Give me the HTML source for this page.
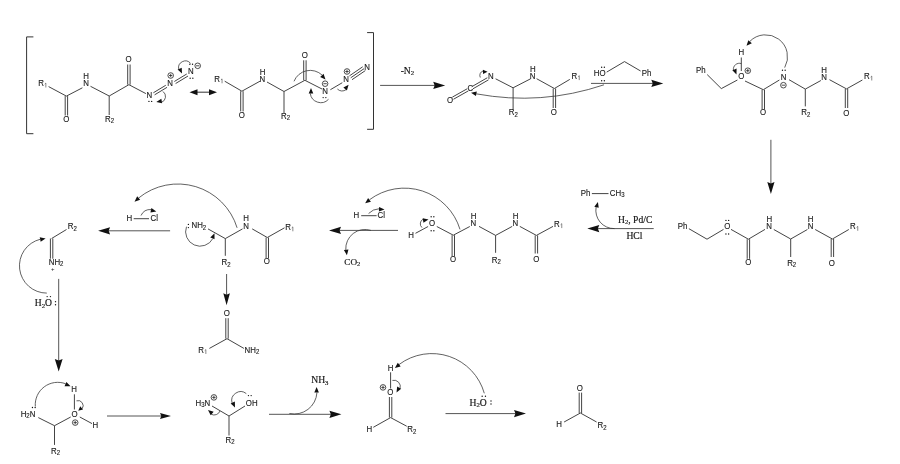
<!DOCTYPE html>
<html><head><meta charset="utf-8"><style>
html,body{margin:0;padding:0;background:#fff;width:900px;height:464px;overflow:hidden}
svg{display:block;will-change:transform}
</style></head><body>
<svg width="900" height="464" viewBox="0 0 900 464">
<rect width="900" height="464" fill="#fff"/>
<path d="M33.4,36.9 H26.6 V133.7 H33.4" fill="none" stroke="#333" stroke-width="1"/>
<text transform="translate(38.15,86) scale(0.95,1)" font-family='"Liberation Sans", sans-serif' font-size="8.3" fill="#1a1a1a" stroke="#1a1a1a" stroke-width="0.12">R<tspan font-size="6.31" dx="3.51">​</tspan></text>
<path d="M44.75,84.08 L45.85,83.08 L45.85,87.49" fill="none" stroke="#484848" stroke-width="0.65"/>
<line x1="48.6" y1="86.6" x2="66.4" y2="96.1" stroke="#3a3a3a" stroke-width="0.95"/>
<line x1="65.2" y1="96.1" x2="65.2" y2="115.5" stroke="#3a3a3a" stroke-width="0.95"/>
<line x1="67.6" y1="96.1" x2="67.6" y2="115.5" stroke="#3a3a3a" stroke-width="0.95"/>
<text transform="translate(63.33,122) scale(0.95,1)" font-family='"Liberation Sans", sans-serif' font-size="8.3" fill="#1a1a1a" stroke="#1a1a1a" stroke-width="0.12">O</text>
<line x1="66.4" y1="96.1" x2="82.4" y2="87.8" stroke="#3a3a3a" stroke-width="0.95"/>
<text transform="translate(83.15,86) scale(0.95,1)" font-family='"Liberation Sans", sans-serif' font-size="8.3" fill="#1a1a1a" stroke="#1a1a1a" stroke-width="0.12">N</text>
<text transform="translate(83.35,79.3) scale(0.95,1)" font-family='"Liberation Sans", sans-serif' font-size="8.3" fill="#1a1a1a" stroke="#1a1a1a" stroke-width="0.12">H</text>
<line x1="90.5" y1="86.3" x2="109.2" y2="96" stroke="#3a3a3a" stroke-width="0.95"/>
<line x1="109.2" y1="96" x2="109.2" y2="115" stroke="#3a3a3a" stroke-width="0.95"/>
<text transform="translate(105.05,121.5) scale(0.95,1)" font-family='"Liberation Sans", sans-serif' font-size="8.3" fill="#1a1a1a" stroke="#1a1a1a" stroke-width="0.12">R<tspan font-size="6.31" dy="1.49">2</tspan><tspan dy="-1.49">​</tspan></text>
<line x1="109.2" y1="96" x2="128.9" y2="84.7" stroke="#3a3a3a" stroke-width="0.95"/>
<line x1="130.1" y1="84.7" x2="130.1" y2="64.5" stroke="#3a3a3a" stroke-width="0.95"/>
<line x1="127.7" y1="84.7" x2="127.7" y2="64.5" stroke="#3a3a3a" stroke-width="0.95"/>
<text transform="translate(125.53,62) scale(0.95,1)" font-family='"Liberation Sans", sans-serif' font-size="8.3" fill="#1a1a1a" stroke="#1a1a1a" stroke-width="0.12">O</text>
<line x1="128.9" y1="84.7" x2="145.9" y2="93.6" stroke="#3a3a3a" stroke-width="0.95"/>
<text transform="translate(146.55,98) scale(0.95,1)" font-family='"Liberation Sans", sans-serif' font-size="8.3" fill="#1a1a1a" stroke="#1a1a1a" stroke-width="0.12">N</text>
<circle cx="148.95" cy="101.4" r="0.68" fill="#111"/><circle cx="151.65" cy="101.4" r="0.68" fill="#111"/>
<line x1="154.62" y1="94.83" x2="167.02" y2="87.33" stroke="#3a3a3a" stroke-width="0.95"/>
<line x1="153.38" y1="92.77" x2="165.78" y2="85.27" stroke="#3a3a3a" stroke-width="0.95"/>
<text transform="translate(167.35,85.6) scale(0.95,1)" font-family='"Liberation Sans", sans-serif' font-size="8.3" fill="#1a1a1a" stroke="#1a1a1a" stroke-width="0.12">N</text>
<circle cx="170.7" cy="75.5" r="2.8" fill="none" stroke="#222" stroke-width="0.8"/><line x1="169.02" y1="75.5" x2="172.38" y2="75.5" stroke="#222" stroke-width="0.8"/><line x1="170.7" y1="73.82" x2="170.7" y2="77.18" stroke="#222" stroke-width="0.8"/>
<line x1="175.62" y1="83.53" x2="188.02" y2="76.03" stroke="#3a3a3a" stroke-width="0.95"/>
<line x1="174.38" y1="81.47" x2="186.78" y2="73.97" stroke="#3a3a3a" stroke-width="0.95"/>
<text transform="translate(188.05,74.3) scale(0.95,1)" font-family='"Liberation Sans", sans-serif' font-size="8.3" fill="#1a1a1a" stroke="#1a1a1a" stroke-width="0.12">N</text>
<circle cx="197.7" cy="65.8" r="2.8" fill="none" stroke="#222" stroke-width="0.8"/><line x1="196.02" y1="65.8" x2="199.38" y2="65.8" stroke="#222" stroke-width="0.8"/>
<circle cx="189.85" cy="64.2" r="0.68" fill="#111"/><circle cx="192.55" cy="64.2" r="0.68" fill="#111"/>
<circle cx="190.15" cy="78.2" r="0.68" fill="#111"/><circle cx="192.85" cy="78.2" r="0.68" fill="#111"/>
<path d="M190.5,63.3 A6.78,6.78 0 0 0 178.78,69.33" fill="none" stroke="#3a3a3a" stroke-width="0.8"/>
<path d="M182,73.6 L177.57,69.61 L179.65,68.63 L181.73,67.64 Z" fill="#111"/>
<path d="M163,91.5 A6.24,6.24 0 0 1 161.62,102.3" fill="none" stroke="#3a3a3a" stroke-width="0.8"/>
<path d="M156.3,102 L161.35,98.83 L161.73,101.1 L162.1,103.37 Z" fill="#111"/>
<line x1="196" y1="92.2" x2="210" y2="92.2" stroke="#444" stroke-width="1.1"/>
<path d="M217,92.2 L209,95.2 L209,92.2 L209,89.2 Z" fill="#111"/>
<path d="M189.5,92.2 L197.5,89.2 L197.5,92.2 L197.5,95.2 Z" fill="#111"/>
<text transform="translate(214.35,81.8) scale(0.95,1)" font-family='"Liberation Sans", sans-serif' font-size="8.3" fill="#1a1a1a" stroke="#1a1a1a" stroke-width="0.12">R<tspan font-size="6.31" dx="3.51">​</tspan></text>
<path d="M220.95,79.88 L222.05,78.88 L222.05,83.29" fill="none" stroke="#484848" stroke-width="0.65"/>
<line x1="224.7" y1="81.2" x2="241.9" y2="91.2" stroke="#3a3a3a" stroke-width="0.95"/>
<line x1="240.7" y1="91.2" x2="240.7" y2="111.4" stroke="#3a3a3a" stroke-width="0.95"/>
<line x1="243.1" y1="91.2" x2="243.1" y2="111.4" stroke="#3a3a3a" stroke-width="0.95"/>
<text transform="translate(238.83,118) scale(0.95,1)" font-family='"Liberation Sans", sans-serif' font-size="8.3" fill="#1a1a1a" stroke="#1a1a1a" stroke-width="0.12">O</text>
<line x1="241.9" y1="91.2" x2="260" y2="81.2" stroke="#3a3a3a" stroke-width="0.95"/>
<text transform="translate(259.55,81.8) scale(0.95,1)" font-family='"Liberation Sans", sans-serif' font-size="8.3" fill="#1a1a1a" stroke="#1a1a1a" stroke-width="0.12">N</text>
<text transform="translate(259.85,75) scale(0.95,1)" font-family='"Liberation Sans", sans-serif' font-size="8.3" fill="#1a1a1a" stroke="#1a1a1a" stroke-width="0.12">H</text>
<line x1="267" y1="82" x2="284" y2="91.5" stroke="#3a3a3a" stroke-width="0.95"/>
<line x1="284" y1="91.5" x2="284" y2="113" stroke="#3a3a3a" stroke-width="0.95"/>
<text transform="translate(281.05,118.5) scale(0.95,1)" font-family='"Liberation Sans", sans-serif' font-size="8.3" fill="#1a1a1a" stroke="#1a1a1a" stroke-width="0.12">R<tspan font-size="6.31" dy="1.49">2</tspan><tspan dy="-1.49">​</tspan></text>
<line x1="284" y1="91.5" x2="304.9" y2="80.3" stroke="#3a3a3a" stroke-width="0.95"/>
<line x1="306.1" y1="80.3" x2="306.1" y2="60.3" stroke="#3a3a3a" stroke-width="0.95"/>
<line x1="303.7" y1="80.3" x2="303.7" y2="60.3" stroke="#3a3a3a" stroke-width="0.95"/>
<text transform="translate(301.83,58) scale(0.95,1)" font-family='"Liberation Sans", sans-serif' font-size="8.3" fill="#1a1a1a" stroke="#1a1a1a" stroke-width="0.12">O</text>
<line x1="304.9" y1="80.3" x2="322" y2="89" stroke="#3a3a3a" stroke-width="0.95"/>
<text transform="translate(322.25,94) scale(0.95,1)" font-family='"Liberation Sans", sans-serif' font-size="8.3" fill="#1a1a1a" stroke="#1a1a1a" stroke-width="0.12">N</text>
<circle cx="325.1" cy="83.7" r="2.8" fill="none" stroke="#222" stroke-width="0.8"/><line x1="323.42" y1="83.7" x2="326.78" y2="83.7" stroke="#222" stroke-width="0.8"/>
<circle cx="323.15" cy="97.6" r="0.68" fill="#111"/><circle cx="325.85" cy="97.6" r="0.68" fill="#111"/>
<line x1="330.4" y1="89.7" x2="342.3" y2="82.7" stroke="#3a3a3a" stroke-width="0.95"/>
<text transform="translate(343.25,81.8) scale(0.95,1)" font-family='"Liberation Sans", sans-serif' font-size="8.3" fill="#1a1a1a" stroke="#1a1a1a" stroke-width="0.12">N</text>
<circle cx="347" cy="71.5" r="2.8" fill="none" stroke="#222" stroke-width="0.8"/><line x1="345.32" y1="71.5" x2="348.68" y2="71.5" stroke="#222" stroke-width="0.8"/><line x1="347" y1="69.82" x2="347" y2="73.18" stroke="#222" stroke-width="0.8"/>
<line x1="350.7" y1="77.8" x2="364" y2="68.7" stroke="#3a3a3a" stroke-width="0.95"/>
<line x1="352" y1="79.7" x2="365.3" y2="70.6" stroke="#3a3a3a" stroke-width="0.95"/>
<line x1="349.4" y1="75.9" x2="362.7" y2="66.8" stroke="#3a3a3a" stroke-width="0.95"/>
<text transform="translate(364.25,70) scale(0.95,1)" font-family='"Liberation Sans", sans-serif' font-size="8.3" fill="#1a1a1a" stroke="#1a1a1a" stroke-width="0.12">N</text>
<path d="M367.1,32.6 H373.5 V129.3 H367.1" fill="none" stroke="#333" stroke-width="1"/>
<path d="M294,81.3 A17.43,17.43 0 0 1 322.17,75.15" fill="none" stroke="#3a3a3a" stroke-width="0.8"/>
<path d="M325.5,79.5 L320.11,76.95 L321.82,75.41 L323.53,73.87 Z" fill="#111"/>
<path d="M328.5,99.3 A10.59,10.59 0 0 1 310.27,93.39" fill="none" stroke="#3a3a3a" stroke-width="0.8"/>
<path d="M311,88 L313.28,93.51 L310.98,93.5 L308.68,93.49 Z" fill="#111"/>
<path d="M337.4,89 A6.51,6.51 0 0 0 346.18,89.56" fill="none" stroke="#3a3a3a" stroke-width="0.8"/>
<path d="M348.6,84.8 L346.92,90.52 L345.14,89.07 L343.35,87.62 Z" fill="#111"/>
<line x1="380.1" y1="85.4" x2="435.6" y2="85.4" stroke="#555" stroke-width="1"/>
<path d="M445.2,85.4 L433.2,89 L434.64,85.4 L433.2,81.8 Z" fill="#111"/>
<text transform="translate(400.64,74) scale(1.0,1)" font-family='"Liberation Serif", serif' font-size="9.6" fill="#1a1a1a" stroke="#1a1a1a" stroke-width="0.2">-N<tspan font-size="6.72" dy="1.25">2</tspan><tspan dy="-1.25">​</tspan></text>
<text transform="translate(446.93,102.5) scale(0.95,1)" font-family='"Liberation Sans", sans-serif' font-size="8.3" fill="#1a1a1a" stroke="#1a1a1a" stroke-width="0.12">O</text>
<line x1="453.49" y1="99.25" x2="468.39" y2="90.85" stroke="#3a3a3a" stroke-width="0.95"/>
<line x1="452.31" y1="97.15" x2="467.21" y2="88.75" stroke="#3a3a3a" stroke-width="0.95"/>
<text transform="translate(467.6,90.8) scale(0.95,1)" font-family='"Liberation Sans", sans-serif' font-size="8.3" fill="#1a1a1a" stroke="#1a1a1a" stroke-width="0.12">C</text>
<line x1="472.9" y1="88.84" x2="488.5" y2="79.84" stroke="#3a3a3a" stroke-width="0.95"/>
<line x1="471.7" y1="86.76" x2="487.3" y2="77.76" stroke="#3a3a3a" stroke-width="0.95"/>
<text transform="translate(488.05,78.6) scale(0.95,1)" font-family='"Liberation Sans", sans-serif' font-size="8.3" fill="#1a1a1a" stroke="#1a1a1a" stroke-width="0.12">N</text>
<line x1="495.6" y1="78.8" x2="513.1" y2="87.8" stroke="#3a3a3a" stroke-width="0.95"/>
<line x1="513.1" y1="87.8" x2="513.1" y2="109.5" stroke="#3a3a3a" stroke-width="0.95"/>
<text transform="translate(508.85,115) scale(0.95,1)" font-family='"Liberation Sans", sans-serif' font-size="8.3" fill="#1a1a1a" stroke="#1a1a1a" stroke-width="0.12">R<tspan font-size="6.31" dy="1.49">2</tspan><tspan dy="-1.49">​</tspan></text>
<line x1="513.1" y1="87.8" x2="530.6" y2="78.8" stroke="#3a3a3a" stroke-width="0.95"/>
<text transform="translate(529.85,78.6) scale(0.95,1)" font-family='"Liberation Sans", sans-serif' font-size="8.3" fill="#1a1a1a" stroke="#1a1a1a" stroke-width="0.12">N</text>
<text transform="translate(530.05,72) scale(0.95,1)" font-family='"Liberation Sans", sans-serif' font-size="8.3" fill="#1a1a1a" stroke="#1a1a1a" stroke-width="0.12">H</text>
<line x1="536.6" y1="78.7" x2="554.4" y2="88.5" stroke="#3a3a3a" stroke-width="0.95"/>
<line x1="553.2" y1="88.5" x2="553.2" y2="108" stroke="#3a3a3a" stroke-width="0.95"/>
<line x1="555.6" y1="88.5" x2="555.6" y2="108" stroke="#3a3a3a" stroke-width="0.95"/>
<text transform="translate(550.73,114.8) scale(0.95,1)" font-family='"Liberation Sans", sans-serif' font-size="8.3" fill="#1a1a1a" stroke="#1a1a1a" stroke-width="0.12">O</text>
<line x1="554.4" y1="88.5" x2="569.8" y2="79.4" stroke="#3a3a3a" stroke-width="0.95"/>
<text transform="translate(571.55,78.6) scale(0.95,1)" font-family='"Liberation Sans", sans-serif' font-size="8.3" fill="#1a1a1a" stroke="#1a1a1a" stroke-width="0.12">R<tspan font-size="6.31" dx="3.51">​</tspan></text>
<path d="M578.15,76.68 L579.25,75.68 L579.25,80.09" fill="none" stroke="#484848" stroke-width="0.65"/>
<text transform="translate(593.85,75.8) scale(0.95,1)" font-family='"Liberation Sans", sans-serif' font-size="8.3" fill="#1a1a1a" stroke="#1a1a1a" stroke-width="0.12">HO</text>
<circle cx="601.65" cy="67.2" r="0.68" fill="#111"/><circle cx="604.35" cy="67.2" r="0.68" fill="#111"/>
<circle cx="601.65" cy="80.7" r="0.68" fill="#111"/><circle cx="604.35" cy="80.7" r="0.68" fill="#111"/>
<line x1="606.7" y1="72.1" x2="624.5" y2="61.6" stroke="#3a3a3a" stroke-width="0.95"/>
<line x1="624.5" y1="61.6" x2="640.6" y2="71" stroke="#3a3a3a" stroke-width="0.95"/>
<text transform="translate(641.85,75.8) scale(0.95,1)" font-family='"Liberation Sans", sans-serif' font-size="8.3" fill="#1a1a1a" stroke="#1a1a1a" stroke-width="0.12">Ph</text>
<line x1="591" y1="83.4" x2="653.7" y2="83.4" stroke="#555" stroke-width="1"/>
<path d="M663.3,83.4 L651.3,87 L652.74,83.4 L651.3,79.8 Z" fill="#111"/>
<path d="M480.3,77.5 A4.69,4.69 0 0 1 483.27,70.88" fill="none" stroke="#3a3a3a" stroke-width="0.8"/>
<path d="M487.5,71.8 L483.06,74.01 L483,71.92 L482.95,69.82 Z" fill="#111"/>
<path d="M604,84.8 A255.13,255.13 0 0 1 476.4,93.86" fill="none" stroke="#3a3a3a" stroke-width="0.8"/>
<path d="M471,92.8 L476.83,91.57 L476.4,93.83 L475.97,96.09 Z" fill="#111"/>
<text transform="translate(696.05,73.4) scale(0.95,1)" font-family='"Liberation Sans", sans-serif' font-size="8.3" fill="#1a1a1a" stroke="#1a1a1a" stroke-width="0.12">Ph</text>
<line x1="707.2" y1="74.6" x2="721.3" y2="88.6" stroke="#3a3a3a" stroke-width="0.95"/>
<line x1="721.3" y1="88.6" x2="737.4" y2="80" stroke="#3a3a3a" stroke-width="0.95"/>
<text transform="translate(738.33,78.9) scale(0.95,1)" font-family='"Liberation Sans", sans-serif' font-size="8.3" fill="#1a1a1a" stroke="#1a1a1a" stroke-width="0.12">O</text>
<circle cx="747.8" cy="70.7" r="2.8" fill="none" stroke="#222" stroke-width="0.8"/><line x1="746.12" y1="70.7" x2="749.48" y2="70.7" stroke="#222" stroke-width="0.8"/><line x1="747.8" y1="69.02" x2="747.8" y2="72.38" stroke="#222" stroke-width="0.8"/>
<line x1="741.3" y1="71" x2="741.3" y2="57.5" stroke="#3a3a3a" stroke-width="0.95"/>
<text transform="translate(738.55,55.1) scale(0.95,1)" font-family='"Liberation Sans", sans-serif' font-size="8.3" fill="#1a1a1a" stroke="#1a1a1a" stroke-width="0.12">H</text>
<line x1="745" y1="81" x2="763.3" y2="89.7" stroke="#3a3a3a" stroke-width="0.95"/>
<line x1="762.1" y1="89.7" x2="762.1" y2="109" stroke="#3a3a3a" stroke-width="0.95"/>
<line x1="764.5" y1="89.7" x2="764.5" y2="109" stroke="#3a3a3a" stroke-width="0.95"/>
<text transform="translate(759.93,115.4) scale(0.95,1)" font-family='"Liberation Sans", sans-serif' font-size="8.3" fill="#1a1a1a" stroke="#1a1a1a" stroke-width="0.12">O</text>
<line x1="763.3" y1="89.7" x2="779.4" y2="80" stroke="#3a3a3a" stroke-width="0.95"/>
<text transform="translate(780.65,79.5) scale(0.95,1)" font-family='"Liberation Sans", sans-serif' font-size="8.3" fill="#1a1a1a" stroke="#1a1a1a" stroke-width="0.12">N</text>
<circle cx="782.45" cy="70.2" r="0.68" fill="#111"/><circle cx="785.15" cy="70.2" r="0.68" fill="#111"/>
<circle cx="783.4" cy="85.2" r="2.8" fill="none" stroke="#222" stroke-width="0.8"/><line x1="781.72" y1="85.2" x2="785.08" y2="85.2" stroke="#222" stroke-width="0.8"/>
<line x1="789" y1="79.7" x2="805.3" y2="89.1" stroke="#3a3a3a" stroke-width="0.95"/>
<line x1="805.3" y1="89.1" x2="805.3" y2="106.4" stroke="#3a3a3a" stroke-width="0.95"/>
<text transform="translate(801.35,115.2) scale(0.95,1)" font-family='"Liberation Sans", sans-serif' font-size="8.3" fill="#1a1a1a" stroke="#1a1a1a" stroke-width="0.12">R<tspan font-size="6.31" dy="1.49">2</tspan><tspan dy="-1.49">​</tspan></text>
<line x1="805.3" y1="89.1" x2="820.9" y2="80.5" stroke="#3a3a3a" stroke-width="0.95"/>
<text transform="translate(821.25,79.6) scale(0.95,1)" font-family='"Liberation Sans", sans-serif' font-size="8.3" fill="#1a1a1a" stroke="#1a1a1a" stroke-width="0.12">N</text>
<text transform="translate(821.35,73.2) scale(0.95,1)" font-family='"Liberation Sans", sans-serif' font-size="8.3" fill="#1a1a1a" stroke="#1a1a1a" stroke-width="0.12">H</text>
<line x1="829.5" y1="79.7" x2="846.5" y2="88.9" stroke="#3a3a3a" stroke-width="0.95"/>
<line x1="845.3" y1="88.9" x2="845.3" y2="108" stroke="#3a3a3a" stroke-width="0.95"/>
<line x1="847.7" y1="88.9" x2="847.7" y2="108" stroke="#3a3a3a" stroke-width="0.95"/>
<text transform="translate(843.13,115.7) scale(0.95,1)" font-family='"Liberation Sans", sans-serif' font-size="8.3" fill="#1a1a1a" stroke="#1a1a1a" stroke-width="0.12">O</text>
<line x1="846.5" y1="88.9" x2="862.4" y2="80" stroke="#3a3a3a" stroke-width="0.95"/>
<text transform="translate(864.05,79) scale(0.95,1)" font-family='"Liberation Sans", sans-serif' font-size="8.3" fill="#1a1a1a" stroke="#1a1a1a" stroke-width="0.12">R<tspan font-size="6.31" dx="3.51">​</tspan></text>
<path d="M870.65,77.08 L871.75,76.08 L871.75,80.49" fill="none" stroke="#484848" stroke-width="0.65"/>
<path d="M741.3,63.6 A5.97,5.97 0 0 0 733.44,70.16" fill="none" stroke="#3a3a3a" stroke-width="0.8"/>
<path d="M736.5,74.5 L732.31,70.26 L734.44,69.4 L736.57,68.54 Z" fill="#111"/>
<path d="M784.7,67.6 A21.99,21.99 0 0 0 749.81,41.43" fill="none" stroke="#3a3a3a" stroke-width="0.8"/>
<path d="M746.5,45.8 L748.35,40.13 L750.09,41.63 L751.83,43.13 Z" fill="#111"/>
<line x1="770.9" y1="139.8" x2="770.9" y2="184.5" stroke="#555" stroke-width="1"/>
<path d="M770.9,194.1 L767.3,182.1 L770.9,183.54 L774.5,182.1 Z" fill="#111"/>
<text transform="translate(677.85,229.2) scale(0.95,1)" font-family='"Liberation Sans", sans-serif' font-size="8.3" fill="#1a1a1a" stroke="#1a1a1a" stroke-width="0.12">Ph</text>
<line x1="688.9" y1="228.7" x2="707" y2="239.2" stroke="#3a3a3a" stroke-width="0.95"/>
<line x1="707" y1="239.2" x2="723.5" y2="229.4" stroke="#3a3a3a" stroke-width="0.95"/>
<text transform="translate(724.13,229.2) scale(0.95,1)" font-family='"Liberation Sans", sans-serif' font-size="8.3" fill="#1a1a1a" stroke="#1a1a1a" stroke-width="0.12">O</text>
<circle cx="725.95" cy="220.4" r="0.68" fill="#111"/><circle cx="728.65" cy="220.4" r="0.68" fill="#111"/>
<circle cx="725.95" cy="234" r="0.68" fill="#111"/><circle cx="728.65" cy="234" r="0.68" fill="#111"/>
<line x1="731" y1="229.4" x2="748.4" y2="239.2" stroke="#3a3a3a" stroke-width="0.95"/>
<line x1="747.2" y1="239.2" x2="747.2" y2="258.8" stroke="#3a3a3a" stroke-width="0.95"/>
<line x1="749.6" y1="239.2" x2="749.6" y2="258.8" stroke="#3a3a3a" stroke-width="0.95"/>
<text transform="translate(745.23,265.4) scale(0.95,1)" font-family='"Liberation Sans", sans-serif' font-size="8.3" fill="#1a1a1a" stroke="#1a1a1a" stroke-width="0.12">O</text>
<line x1="748.4" y1="239.2" x2="765" y2="229.4" stroke="#3a3a3a" stroke-width="0.95"/>
<text transform="translate(766.35,228.5) scale(0.95,1)" font-family='"Liberation Sans", sans-serif' font-size="8.3" fill="#1a1a1a" stroke="#1a1a1a" stroke-width="0.12">N</text>
<text transform="translate(766.45,221.6) scale(0.95,1)" font-family='"Liberation Sans", sans-serif' font-size="8.3" fill="#1a1a1a" stroke="#1a1a1a" stroke-width="0.12">H</text>
<line x1="773.8" y1="229.5" x2="790.7" y2="239" stroke="#3a3a3a" stroke-width="0.95"/>
<line x1="790.7" y1="239" x2="790.7" y2="257" stroke="#3a3a3a" stroke-width="0.95"/>
<text transform="translate(787.15,265.5) scale(0.95,1)" font-family='"Liberation Sans", sans-serif' font-size="8.3" fill="#1a1a1a" stroke="#1a1a1a" stroke-width="0.12">R<tspan font-size="6.31" dy="1.49">2</tspan><tspan dy="-1.49">​</tspan></text>
<line x1="790.7" y1="239" x2="807.4" y2="229.5" stroke="#3a3a3a" stroke-width="0.95"/>
<text transform="translate(807.75,228.5) scale(0.95,1)" font-family='"Liberation Sans", sans-serif' font-size="8.3" fill="#1a1a1a" stroke="#1a1a1a" stroke-width="0.12">N</text>
<text transform="translate(807.85,221.6) scale(0.95,1)" font-family='"Liberation Sans", sans-serif' font-size="8.3" fill="#1a1a1a" stroke="#1a1a1a" stroke-width="0.12">H</text>
<line x1="815.2" y1="229.5" x2="832.4" y2="239" stroke="#3a3a3a" stroke-width="0.95"/>
<line x1="831.2" y1="239" x2="831.2" y2="257" stroke="#3a3a3a" stroke-width="0.95"/>
<line x1="833.6" y1="239" x2="833.6" y2="257" stroke="#3a3a3a" stroke-width="0.95"/>
<text transform="translate(828.83,265.5) scale(0.95,1)" font-family='"Liberation Sans", sans-serif' font-size="8.3" fill="#1a1a1a" stroke="#1a1a1a" stroke-width="0.12">O</text>
<line x1="832.4" y1="239" x2="848.8" y2="229.5" stroke="#3a3a3a" stroke-width="0.95"/>
<text transform="translate(850.05,229.3) scale(0.95,1)" font-family='"Liberation Sans", sans-serif' font-size="8.3" fill="#1a1a1a" stroke="#1a1a1a" stroke-width="0.12">R<tspan font-size="6.31" dx="3.51">​</tspan></text>
<path d="M856.65,227.38 L857.75,226.38 L857.75,230.79" fill="none" stroke="#484848" stroke-width="0.65"/>
<line x1="653.7" y1="228.6" x2="596.9" y2="228.6" stroke="#555" stroke-width="1"/>
<path d="M587.3,228.6 L599.3,225 L597.86,228.6 L599.3,232.2 Z" fill="#111"/>
<text transform="translate(580.85,195.7) scale(0.95,1)" font-family='"Liberation Sans", sans-serif' font-size="8.3" fill="#1a1a1a" stroke="#1a1a1a" stroke-width="0.12">Ph</text>
<line x1="591.9" y1="193.6" x2="608.5" y2="193.6" stroke="#3a3a3a" stroke-width="0.95"/>
<text transform="translate(609.8,195.7) scale(0.95,1)" font-family='"Liberation Sans", sans-serif' font-size="8.3" fill="#1a1a1a" stroke="#1a1a1a" stroke-width="0.12">CH<tspan font-size="6.31" dy="1.49">3</tspan><tspan dy="-1.49">​</tspan></text>
<text transform="translate(618.02,222.5) scale(1.0,1)" font-family='"Liberation Serif", serif' font-size="9.6" fill="#1a1a1a" stroke="#1a1a1a" stroke-width="0.2">H<tspan font-size="6.72" dy="1.25">2</tspan><tspan dy="-1.25">​</tspan>, Pd/C</text>
<text transform="translate(626.42,238.6) scale(1.0,1)" font-family='"Liberation Serif", serif' font-size="9.6" fill="#1a1a1a" stroke="#1a1a1a" stroke-width="0.2">HCl</text>
<path d="M614.5,228.6 A18.26,18.26 0 0 1 596.12,207.08" fill="none" stroke="#3a3a3a" stroke-width="0.8"/>
<path d="M597.9,201.9 L598.74,207.8 L596.51,207.22 L594.29,206.64 Z" fill="#111"/>
<text transform="translate(408.25,238) scale(0.95,1)" font-family='"Liberation Sans", sans-serif' font-size="8.3" fill="#1a1a1a" stroke="#1a1a1a" stroke-width="0.12">H</text>
<line x1="415.5" y1="233.3" x2="428.1" y2="226.5" stroke="#3a3a3a" stroke-width="0.95"/>
<text transform="translate(428.93,226.4) scale(0.95,1)" font-family='"Liberation Sans", sans-serif' font-size="8.3" fill="#1a1a1a" stroke="#1a1a1a" stroke-width="0.12">O</text>
<circle cx="431.15" cy="216.8" r="0.68" fill="#111"/><circle cx="433.85" cy="216.8" r="0.68" fill="#111"/>
<circle cx="431.15" cy="230.8" r="0.68" fill="#111"/><circle cx="433.85" cy="230.8" r="0.68" fill="#111"/>
<line x1="436.8" y1="226.5" x2="453.3" y2="235.2" stroke="#3a3a3a" stroke-width="0.95"/>
<line x1="452.1" y1="235.2" x2="452.1" y2="256" stroke="#3a3a3a" stroke-width="0.95"/>
<line x1="454.5" y1="235.2" x2="454.5" y2="256" stroke="#3a3a3a" stroke-width="0.95"/>
<text transform="translate(449.93,262.3) scale(0.95,1)" font-family='"Liberation Sans", sans-serif' font-size="8.3" fill="#1a1a1a" stroke="#1a1a1a" stroke-width="0.12">O</text>
<line x1="453.3" y1="235.2" x2="469.8" y2="226.5" stroke="#3a3a3a" stroke-width="0.95"/>
<text transform="translate(470.55,226) scale(0.95,1)" font-family='"Liberation Sans", sans-serif' font-size="8.3" fill="#1a1a1a" stroke="#1a1a1a" stroke-width="0.12">N</text>
<text transform="translate(470.65,219) scale(0.95,1)" font-family='"Liberation Sans", sans-serif' font-size="8.3" fill="#1a1a1a" stroke="#1a1a1a" stroke-width="0.12">H</text>
<line x1="479" y1="226.4" x2="495.6" y2="235.4" stroke="#3a3a3a" stroke-width="0.95"/>
<line x1="495.6" y1="235.4" x2="495.6" y2="252.8" stroke="#3a3a3a" stroke-width="0.95"/>
<text transform="translate(491.85,262.8) scale(0.95,1)" font-family='"Liberation Sans", sans-serif' font-size="8.3" fill="#1a1a1a" stroke="#1a1a1a" stroke-width="0.12">R<tspan font-size="6.31" dy="1.49">2</tspan><tspan dy="-1.49">​</tspan></text>
<line x1="495.6" y1="235.4" x2="512.2" y2="226.4" stroke="#3a3a3a" stroke-width="0.95"/>
<text transform="translate(512.55,226) scale(0.95,1)" font-family='"Liberation Sans", sans-serif' font-size="8.3" fill="#1a1a1a" stroke="#1a1a1a" stroke-width="0.12">N</text>
<text transform="translate(512.65,219) scale(0.95,1)" font-family='"Liberation Sans", sans-serif' font-size="8.3" fill="#1a1a1a" stroke="#1a1a1a" stroke-width="0.12">H</text>
<line x1="519.8" y1="226.4" x2="536.4" y2="235.4" stroke="#3a3a3a" stroke-width="0.95"/>
<line x1="535.2" y1="235.4" x2="535.2" y2="253.5" stroke="#3a3a3a" stroke-width="0.95"/>
<line x1="537.6" y1="235.4" x2="537.6" y2="253.5" stroke="#3a3a3a" stroke-width="0.95"/>
<text transform="translate(533.13,261.8) scale(0.95,1)" font-family='"Liberation Sans", sans-serif' font-size="8.3" fill="#1a1a1a" stroke="#1a1a1a" stroke-width="0.12">O</text>
<line x1="536.4" y1="235.4" x2="553" y2="226.4" stroke="#3a3a3a" stroke-width="0.95"/>
<text transform="translate(554.05,226.6) scale(0.95,1)" font-family='"Liberation Sans", sans-serif' font-size="8.3" fill="#1a1a1a" stroke="#1a1a1a" stroke-width="0.12">R<tspan font-size="6.31" dx="3.51">​</tspan></text>
<path d="M560.65,224.68 L561.75,223.68 L561.75,228.09" fill="none" stroke="#484848" stroke-width="0.65"/>
<path d="M460,229.4 A58.13,58.13 0 0 0 369.43,199.79" fill="none" stroke="#3a3a3a" stroke-width="0.8"/>
<path d="M365.2,203.3 L368.09,198.09 L369.52,199.89 L370.94,201.7 Z" fill="#111"/>
<path d="M422,227.6 A5.16,5.16 0 0 1 423.28,219.08" fill="none" stroke="#3a3a3a" stroke-width="0.8"/>
<path d="M428.5,219.6 L423.46,222.78 L423.08,220.51 L422.69,218.25 Z" fill="#111"/>
<line x1="398" y1="230.4" x2="338.6" y2="230.4" stroke="#555" stroke-width="1"/>
<path d="M329,230.4 L341,226.8 L339.56,230.4 L341,234 Z" fill="#111"/>
<text transform="translate(353.45,218) scale(0.95,1)" font-family='"Liberation Sans", sans-serif' font-size="8.3" fill="#1a1a1a" stroke="#1a1a1a" stroke-width="0.12">H</text>
<line x1="361.2" y1="215.7" x2="376.6" y2="215.7" stroke="#3a3a3a" stroke-width="0.95"/>
<text transform="translate(377.5,218) scale(0.95,1)" font-family='"Liberation Sans", sans-serif' font-size="8.3" fill="#1a1a1a" stroke="#1a1a1a" stroke-width="0.12">Cl</text>
<path d="M368.6,213.5 A15.47,15.47 0 0 1 379.08,208.77" fill="none" stroke="#3a3a3a" stroke-width="0.8"/>
<path d="M384.5,209.5 L378.9,211.55 L379.01,209.25 L379.11,206.95 Z" fill="#111"/>
<path d="M370.9,230.4 A19.21,19.21 0 0 0 345.79,249.83" fill="none" stroke="#3a3a3a" stroke-width="0.8"/>
<path d="M346.9,255.2 L343.89,250.05 L346.17,249.75 L348.45,249.44 Z" fill="#111"/>
<text transform="translate(344.32,264.8) scale(1.0,1)" font-family='"Liberation Serif", serif' font-size="9.2" fill="#1a1a1a" stroke="#1a1a1a" stroke-width="0.2">CO<tspan font-size="6.44" dy="1.2">2</tspan><tspan dy="-1.2">​</tspan></text>
<circle cx="188.4" cy="224.4" r="0.68" fill="#111"/><circle cx="188.4" cy="227.6" r="0.68" fill="#111"/>
<text transform="translate(191.45,228) scale(0.95,1)" font-family='"Liberation Sans", sans-serif' font-size="8.3" fill="#1a1a1a" stroke="#1a1a1a" stroke-width="0.12">NH<tspan font-size="6.31" dy="1.49">2</tspan><tspan dy="-1.49">​</tspan></text>
<line x1="208" y1="228.9" x2="225.3" y2="238.6" stroke="#3a3a3a" stroke-width="0.95"/>
<line x1="225.3" y1="238.6" x2="225.3" y2="255.8" stroke="#3a3a3a" stroke-width="0.95"/>
<text transform="translate(221.55,265.3) scale(0.95,1)" font-family='"Liberation Sans", sans-serif' font-size="8.3" fill="#1a1a1a" stroke="#1a1a1a" stroke-width="0.12">R<tspan font-size="6.31" dy="1.49">2</tspan><tspan dy="-1.49">​</tspan></text>
<line x1="225.3" y1="238.6" x2="242.5" y2="228.9" stroke="#3a3a3a" stroke-width="0.95"/>
<text transform="translate(243.15,228.8) scale(0.95,1)" font-family='"Liberation Sans", sans-serif' font-size="8.3" fill="#1a1a1a" stroke="#1a1a1a" stroke-width="0.12">N</text>
<text transform="translate(243.25,221.3) scale(0.95,1)" font-family='"Liberation Sans", sans-serif' font-size="8.3" fill="#1a1a1a" stroke="#1a1a1a" stroke-width="0.12">H</text>
<line x1="252.2" y1="228.9" x2="267.3" y2="237.5" stroke="#3a3a3a" stroke-width="0.95"/>
<line x1="266.1" y1="237.5" x2="266.1" y2="258" stroke="#3a3a3a" stroke-width="0.95"/>
<line x1="268.5" y1="237.5" x2="268.5" y2="258" stroke="#3a3a3a" stroke-width="0.95"/>
<text transform="translate(263.83,264.4) scale(0.95,1)" font-family='"Liberation Sans", sans-serif' font-size="8.3" fill="#1a1a1a" stroke="#1a1a1a" stroke-width="0.12">O</text>
<line x1="267.3" y1="237.5" x2="284.5" y2="227.8" stroke="#3a3a3a" stroke-width="0.95"/>
<text transform="translate(285.15,229.8) scale(0.95,1)" font-family='"Liberation Sans", sans-serif' font-size="8.3" fill="#1a1a1a" stroke="#1a1a1a" stroke-width="0.12">R<tspan font-size="6.31" dx="3.51">​</tspan></text>
<path d="M291.75,227.88 L292.85,226.88 L292.85,231.29" fill="none" stroke="#484848" stroke-width="0.65"/>
<path d="M237.1,227.8 A61.96,61.96 0 0 0 138.59,198.03" fill="none" stroke="#3a3a3a" stroke-width="0.8"/>
<path d="M134.5,201.7 L137.18,196.37 L138.68,198.12 L140.17,199.87 Z" fill="#111"/>
<path d="M186.5,226.7 A14.48,14.48 0 0 0 212.91,238.43" fill="none" stroke="#3a3a3a" stroke-width="0.8"/>
<path d="M214.5,233.2 L214.53,239.16 L212.41,238.29 L210.28,237.41 Z" fill="#111"/>
<line x1="170.1" y1="230.8" x2="107.7" y2="230.8" stroke="#555" stroke-width="1"/>
<path d="M98.1,230.8 L110.1,227.2 L108.66,230.8 L110.1,234.4 Z" fill="#111"/>
<text transform="translate(126.45,221) scale(0.95,1)" font-family='"Liberation Sans", sans-serif' font-size="8.3" fill="#1a1a1a" stroke="#1a1a1a" stroke-width="0.12">H</text>
<line x1="133.7" y1="218.7" x2="149" y2="218.7" stroke="#3a3a3a" stroke-width="0.95"/>
<text transform="translate(150.5,221) scale(0.95,1)" font-family='"Liberation Sans", sans-serif' font-size="8.3" fill="#1a1a1a" stroke="#1a1a1a" stroke-width="0.12">Cl</text>
<path d="M141,215.5 A10.34,10.34 0 0 1 151.18,209.56" fill="none" stroke="#3a3a3a" stroke-width="0.8"/>
<path d="M156.3,211.4 L150.44,212.49 L150.92,210.24 L151.41,208 Z" fill="#111"/>
<line x1="226.6" y1="274" x2="226.6" y2="295.7" stroke="#555" stroke-width="1"/>
<path d="M226.6,305.3 L223.3,293.3 L226.6,294.74 L229.9,293.3 Z" fill="#111"/>
<text transform="translate(223.83,316.4) scale(0.95,1)" font-family='"Liberation Sans", sans-serif' font-size="8.3" fill="#1a1a1a" stroke="#1a1a1a" stroke-width="0.12">O</text>
<line x1="225.8" y1="318.2" x2="225.8" y2="338.7" stroke="#3a3a3a" stroke-width="0.95"/>
<line x1="228.2" y1="318.2" x2="228.2" y2="338.7" stroke="#3a3a3a" stroke-width="0.95"/>
<line x1="227" y1="338.7" x2="209.4" y2="348.4" stroke="#3a3a3a" stroke-width="0.95"/>
<line x1="227" y1="338.7" x2="243.9" y2="348.4" stroke="#3a3a3a" stroke-width="0.95"/>
<text transform="translate(198.15,352.5) scale(0.95,1)" font-family='"Liberation Sans", sans-serif' font-size="8.3" fill="#1a1a1a" stroke="#1a1a1a" stroke-width="0.12">R<tspan font-size="6.31" dx="3.51">​</tspan></text>
<path d="M204.75,350.58 L205.85,349.58 L205.85,353.99" fill="none" stroke="#484848" stroke-width="0.65"/>
<text transform="translate(244.55,352.5) scale(0.95,1)" font-family='"Liberation Sans", sans-serif' font-size="8.3" fill="#1a1a1a" stroke="#1a1a1a" stroke-width="0.12">NH<tspan font-size="6.31" dy="1.49">2</tspan><tspan dy="-1.49">​</tspan></text>
<text transform="translate(67.75,229) scale(0.95,1)" font-family='"Liberation Sans", sans-serif' font-size="8.3" fill="#1a1a1a" stroke="#1a1a1a" stroke-width="0.12">R<tspan font-size="6.31" dy="1.49">2</tspan><tspan dy="-1.49">​</tspan></text>
<line x1="51.6" y1="238.5" x2="66.5" y2="229.5" stroke="#3a3a3a" stroke-width="0.95"/>
<line x1="50.4" y1="238.5" x2="50.4" y2="258.7" stroke="#3a3a3a" stroke-width="0.95"/>
<line x1="52.8" y1="238.5" x2="52.8" y2="258.7" stroke="#3a3a3a" stroke-width="0.95"/>
<text transform="translate(48.75,264.8) scale(0.95,1)" font-family='"Liberation Sans", sans-serif' font-size="8.3" fill="#1a1a1a" stroke="#1a1a1a" stroke-width="0.12">NH<tspan font-size="6.31" dy="1.49">2</tspan><tspan dy="-1.49">​</tspan></text>
<text x="52.8" y="271" text-anchor="middle" font-family='"Liberation Sans", sans-serif' font-size="6" fill="#1a1a1a">+</text>
<line x1="58.7" y1="278.9" x2="58.7" y2="361.4" stroke="#555" stroke-width="1"/>
<path d="M58.7,371.4 L54.8,358.9 L58.7,360.4 L62.6,358.9 Z" fill="#111"/>
<text transform="translate(34.72,306.3) scale(1.0,1)" font-family='"Liberation Serif", serif' font-size="9.6" fill="#1a1a1a" stroke="#1a1a1a" stroke-width="0.2">H<tspan font-size="6.72" dy="1.25">2</tspan><tspan dy="-1.25">​</tspan>O</text>
<circle cx="47.15" cy="296.6" r="0.68" fill="#111"/><circle cx="50.45" cy="296.6" r="0.68" fill="#111"/>
<circle cx="55.5" cy="301.65" r="0.68" fill="#111"/><circle cx="55.5" cy="304.75" r="0.68" fill="#111"/>
<path d="M46.8,293.1 A27.31,27.31 0 0 1 40.17,239.29" fill="none" stroke="#3a3a3a" stroke-width="0.8"/>
<path d="M45.6,238.5 L40.65,241.82 L40.2,239.56 L39.76,237.31 Z" fill="#111"/>
<text transform="translate(20.65,416.5) scale(0.95,1)" font-family='"Liberation Sans", sans-serif' font-size="8.3" fill="#1a1a1a" stroke="#1a1a1a" stroke-width="0.12">H<tspan font-size="6.31" dy="1.49">2</tspan><tspan dy="-1.49">​</tspan>N</text>
<circle cx="32.45" cy="407.5" r="0.68" fill="#111"/><circle cx="35.15" cy="407.5" r="0.68" fill="#111"/>
<line x1="38.3" y1="417.6" x2="54.5" y2="425.7" stroke="#3a3a3a" stroke-width="0.95"/>
<line x1="54.5" y1="425.7" x2="54.5" y2="444.9" stroke="#3a3a3a" stroke-width="0.95"/>
<text transform="translate(51.05,453.8) scale(0.95,1)" font-family='"Liberation Sans", sans-serif' font-size="8.3" fill="#1a1a1a" stroke="#1a1a1a" stroke-width="0.12">R<tspan font-size="6.31" dy="1.49">2</tspan><tspan dy="-1.49">​</tspan></text>
<line x1="54.5" y1="425.7" x2="70.7" y2="417" stroke="#3a3a3a" stroke-width="0.95"/>
<text transform="translate(71.53,416.5) scale(0.95,1)" font-family='"Liberation Sans", sans-serif' font-size="8.3" fill="#1a1a1a" stroke="#1a1a1a" stroke-width="0.12">O</text>
<circle cx="75.2" cy="422.6" r="2.8" fill="none" stroke="#222" stroke-width="0.8"/><line x1="73.52" y1="422.6" x2="76.88" y2="422.6" stroke="#222" stroke-width="0.8"/><line x1="75.2" y1="420.92" x2="75.2" y2="424.28" stroke="#222" stroke-width="0.8"/>
<line x1="74.4" y1="409.5" x2="74.4" y2="394.3" stroke="#3a3a3a" stroke-width="0.95"/>
<text transform="translate(71.25,392.2) scale(0.95,1)" font-family='"Liberation Sans", sans-serif' font-size="8.3" fill="#1a1a1a" stroke="#1a1a1a" stroke-width="0.12">H</text>
<line x1="79.8" y1="417" x2="92" y2="423.6" stroke="#3a3a3a" stroke-width="0.95"/>
<text transform="translate(92.55,427.6) scale(0.95,1)" font-family='"Liberation Sans", sans-serif' font-size="8.3" fill="#1a1a1a" stroke="#1a1a1a" stroke-width="0.12">H</text>
<path d="M35.3,406.5 A22.5,22.5 0 0 1 65.64,383.76" fill="none" stroke="#3a3a3a" stroke-width="0.8"/>
<path d="M70.5,386.3 L64.54,386.16 L65.48,384.06 L66.41,381.96 Z" fill="#111"/>
<path d="M76.5,400.8 A5.12,5.12 0 0 1 82.08,408.81" fill="none" stroke="#3a3a3a" stroke-width="0.8"/>
<path d="M78.2,410.8 L80.31,406.31 L81.66,407.92 L83,409.53 Z" fill="#111"/>
<line x1="107" y1="416" x2="162.2" y2="416" stroke="#555" stroke-width="1"/>
<path d="M171,416 L160,419 L161.32,416 L160,413 Z" fill="#111"/>
<text transform="translate(195.55,405.8) scale(0.95,1)" font-family='"Liberation Sans", sans-serif' font-size="8.3" fill="#1a1a1a" stroke="#1a1a1a" stroke-width="0.12">H<tspan font-size="6.31" dy="1.49">3</tspan><tspan dy="-1.49">​</tspan>N</text>
<circle cx="213.9" cy="397.4" r="2.8" fill="none" stroke="#222" stroke-width="0.8"/><line x1="212.22" y1="397.4" x2="215.58" y2="397.4" stroke="#222" stroke-width="0.8"/><line x1="213.9" y1="395.72" x2="213.9" y2="399.08" stroke="#222" stroke-width="0.8"/>
<line x1="212" y1="406" x2="229" y2="416" stroke="#3a3a3a" stroke-width="0.95"/>
<line x1="229" y1="416" x2="229" y2="435.5" stroke="#3a3a3a" stroke-width="0.95"/>
<text transform="translate(225.55,442.8) scale(0.95,1)" font-family='"Liberation Sans", sans-serif' font-size="8.3" fill="#1a1a1a" stroke="#1a1a1a" stroke-width="0.12">R<tspan font-size="6.31" dy="1.49">2</tspan><tspan dy="-1.49">​</tspan></text>
<line x1="229" y1="416" x2="245" y2="406" stroke="#3a3a3a" stroke-width="0.95"/>
<text transform="translate(245.83,405.8) scale(0.95,1)" font-family='"Liberation Sans", sans-serif' font-size="8.3" fill="#1a1a1a" stroke="#1a1a1a" stroke-width="0.12">OH</text>
<circle cx="248.45" cy="395.6" r="0.68" fill="#111"/><circle cx="251.15" cy="395.6" r="0.68" fill="#111"/>
<path d="M246.3,393.6 A8.96,8.96 0 0 0 232.06,402.95" fill="none" stroke="#3a3a3a" stroke-width="0.8"/>
<path d="M235,407.5 L230.66,403.42 L232.76,402.48 L234.86,401.54 Z" fill="#111"/>
<path d="M220,411 A6.28,6.28 0 0 1 211.19,414.26" fill="none" stroke="#3a3a3a" stroke-width="0.8"/>
<path d="M208,410 L213.67,411.84 L212.17,413.58 L210.68,415.33 Z" fill="#111"/>
<line x1="269" y1="414.3" x2="331.8" y2="414.3" stroke="#555" stroke-width="1"/>
<path d="M341.4,414.3 L329.4,417.9 L330.84,414.3 L329.4,410.7 Z" fill="#111"/>
<text transform="translate(311.22,383.3) scale(1.0,1)" font-family='"Liberation Serif", serif' font-size="9.6" fill="#1a1a1a" stroke="#1a1a1a" stroke-width="0.2">NH<tspan font-size="6.72" dy="1.25">3</tspan><tspan dy="-1.25">​</tspan></text>
<path d="M289.4,413.5 A22.76,22.76 0 0 0 316.94,392.58" fill="none" stroke="#3a3a3a" stroke-width="0.8"/>
<path d="M316.6,387.1 L318.91,392.59 L316.61,392.6 L314.31,392.61 Z" fill="#111"/>
<text transform="translate(387.65,371.2) scale(0.95,1)" font-family='"Liberation Sans", sans-serif' font-size="8.3" fill="#1a1a1a" stroke="#1a1a1a" stroke-width="0.12">H</text>
<line x1="390.6" y1="372.3" x2="390.6" y2="388.5" stroke="#3a3a3a" stroke-width="0.95"/>
<text transform="translate(387.13,394.9) scale(0.95,1)" font-family='"Liberation Sans", sans-serif' font-size="8.3" fill="#1a1a1a" stroke="#1a1a1a" stroke-width="0.12">O</text>
<circle cx="383" cy="387.4" r="2.8" fill="none" stroke="#222" stroke-width="0.8"/><line x1="381.32" y1="387.4" x2="384.68" y2="387.4" stroke="#222" stroke-width="0.8"/><line x1="383" y1="385.72" x2="383" y2="389.08" stroke="#222" stroke-width="0.8"/>
<line x1="389.4" y1="397" x2="389.4" y2="417.6" stroke="#3a3a3a" stroke-width="0.95"/>
<line x1="391.8" y1="397" x2="391.8" y2="417.6" stroke="#3a3a3a" stroke-width="0.95"/>
<line x1="390.6" y1="417.6" x2="373.3" y2="427.3" stroke="#3a3a3a" stroke-width="0.95"/>
<text transform="translate(366.45,431.5) scale(0.95,1)" font-family='"Liberation Sans", sans-serif' font-size="8.3" fill="#1a1a1a" stroke="#1a1a1a" stroke-width="0.12">H</text>
<line x1="390.6" y1="417.6" x2="406.7" y2="426.2" stroke="#3a3a3a" stroke-width="0.95"/>
<text transform="translate(407.35,432) scale(0.95,1)" font-family='"Liberation Sans", sans-serif' font-size="8.3" fill="#1a1a1a" stroke="#1a1a1a" stroke-width="0.12">R<tspan font-size="6.31" dy="1.49">2</tspan><tspan dy="-1.49">​</tspan></text>
<path d="M392.4,380.4 A6.41,6.41 0 0 1 400.04,388.51" fill="none" stroke="#3a3a3a" stroke-width="0.8"/>
<path d="M396.5,392.5 L397.18,386.58 L399.19,387.7 L401.2,388.83 Z" fill="#111"/>
<path d="M484.3,393.3 A54.5,54.5 0 0 0 399.12,364.48" fill="none" stroke="#3a3a3a" stroke-width="0.8"/>
<path d="M394.9,368 L397.79,362.78 L399.21,364.59 L400.64,366.39 Z" fill="#111"/>
<line x1="445.5" y1="413.6" x2="516.4" y2="413.6" stroke="#555" stroke-width="1"/>
<path d="M526,413.6 L514,417.2 L515.44,413.6 L514,410 Z" fill="#111"/>
<text transform="translate(469.52,405.8) scale(1.0,1)" font-family='"Liberation Serif", serif' font-size="9.6" fill="#1a1a1a" stroke="#1a1a1a" stroke-width="0.2">H<tspan font-size="6.72" dy="1.25">2</tspan><tspan dy="-1.25">​</tspan>O</text>
<circle cx="482.15" cy="396.2" r="0.68" fill="#111"/><circle cx="485.45" cy="396.2" r="0.68" fill="#111"/>
<circle cx="491" cy="400.95" r="0.68" fill="#111"/><circle cx="491" cy="404.05" r="0.68" fill="#111"/>
<text transform="translate(576.83,391) scale(0.95,1)" font-family='"Liberation Sans", sans-serif' font-size="8.3" fill="#1a1a1a" stroke="#1a1a1a" stroke-width="0.12">O</text>
<line x1="579.2" y1="392.6" x2="579.2" y2="413" stroke="#3a3a3a" stroke-width="0.95"/>
<line x1="581.6" y1="392.6" x2="581.6" y2="413" stroke="#3a3a3a" stroke-width="0.95"/>
<line x1="580.4" y1="413" x2="564.1" y2="422" stroke="#3a3a3a" stroke-width="0.95"/>
<line x1="580.4" y1="413" x2="596.6" y2="422" stroke="#3a3a3a" stroke-width="0.95"/>
<text transform="translate(556.15,427.2) scale(0.95,1)" font-family='"Liberation Sans", sans-serif' font-size="8.3" fill="#1a1a1a" stroke="#1a1a1a" stroke-width="0.12">H</text>
<text transform="translate(597.55,428) scale(0.95,1)" font-family='"Liberation Sans", sans-serif' font-size="8.3" fill="#1a1a1a" stroke="#1a1a1a" stroke-width="0.12">R<tspan font-size="6.31" dy="1.49">2</tspan><tspan dy="-1.49">​</tspan></text>
</svg></body></html>
